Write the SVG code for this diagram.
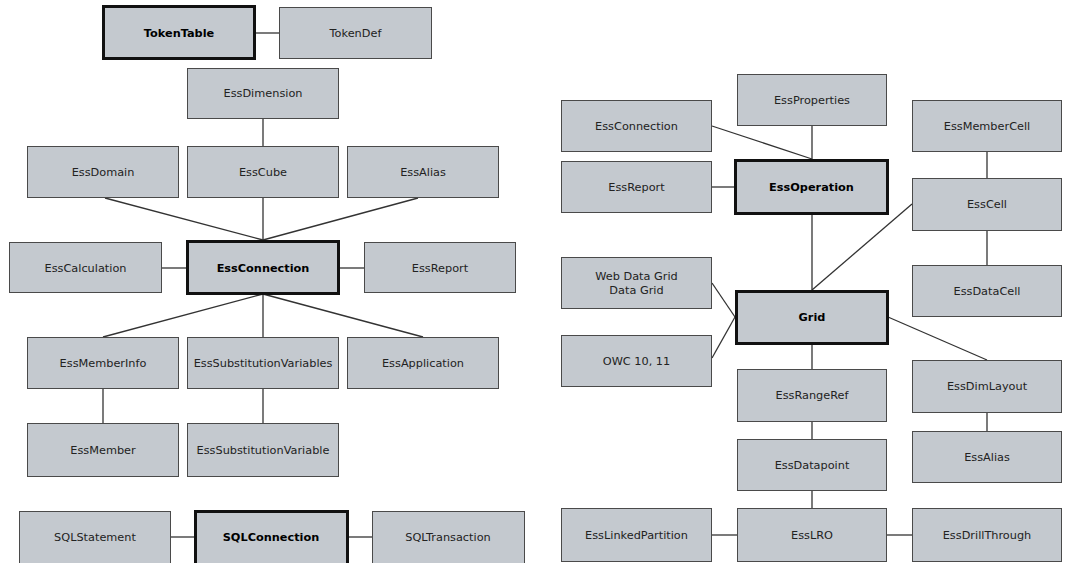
<svg xmlns="http://www.w3.org/2000/svg" width="1084" height="563" viewBox="0 0 1084 563">
<style>
.n rect{fill:#c4c9cf;stroke:#4a4a4a;stroke-width:1}
.n.k rect{stroke:#111;stroke-width:3}
.n text{font-family:"DejaVu Sans",Verdana,sans-serif;font-size:11.3px;fill:#222;text-anchor:middle}
.n.k text{font-weight:bold;fill:#000}
#conn line{stroke:#333;stroke-width:1.3}
</style>
<rect width="1084" height="563" fill="#fff"/>
<g id="conn">
<line x1="255" y1="33" x2="279" y2="33"/>
<line x1="263" y1="119" x2="263" y2="146"/>
<line x1="105" y1="198" x2="263" y2="240"/>
<line x1="263" y1="198" x2="263" y2="240"/>
<line x1="418" y1="198" x2="263" y2="240"/>
<line x1="162" y1="268" x2="186" y2="268"/>
<line x1="339" y1="268" x2="364" y2="268"/>
<line x1="263" y1="294" x2="103" y2="337"/>
<line x1="263" y1="294" x2="263" y2="337"/>
<line x1="263" y1="294" x2="423" y2="337"/>
<line x1="103" y1="389" x2="103" y2="423"/>
<line x1="263" y1="389" x2="263" y2="423"/>
<line x1="171" y1="537" x2="194" y2="537"/>
<line x1="348" y1="537" x2="372" y2="537"/>
<line x1="712" y1="126" x2="812" y2="159"/>
<line x1="812" y1="126" x2="812" y2="159"/>
<line x1="712" y1="187" x2="734" y2="187"/>
<line x1="987" y1="152" x2="987" y2="178"/>
<line x1="812" y1="214" x2="812" y2="290"/>
<line x1="912" y1="204" x2="812" y2="290"/>
<line x1="987" y1="231" x2="987" y2="265"/>
<line x1="712" y1="283" x2="735" y2="317"/>
<line x1="712" y1="358" x2="735" y2="317"/>
<line x1="888" y1="317" x2="987" y2="360"/>
<line x1="812" y1="344" x2="812" y2="369"/>
<line x1="987" y1="413" x2="987" y2="431"/>
<line x1="812" y1="422" x2="812" y2="439"/>
<line x1="812" y1="491" x2="812" y2="508"/>
<line x1="712" y1="535" x2="737" y2="535"/>
<line x1="887" y1="535" x2="912" y2="535"/>
</g>
<g id="TokenTable" class="n k"><rect x="103.5" y="6.5" width="151" height="52"/><text x="179" y="37">TokenTable</text></g>
<g id="TokenDef" class="n"><rect x="279.5" y="7.5" width="152" height="51"/><text x="355.5" y="37">TokenDef</text></g>
<g id="EssDimension" class="n"><rect x="187.5" y="68.5" width="151" height="50"/><text x="263" y="97">EssDimension</text></g>
<g id="EssDomain" class="n"><rect x="27.5" y="146.5" width="151" height="51"/><text x="103" y="176">EssDomain</text></g>
<g id="EssCube" class="n"><rect x="187.5" y="146.5" width="151" height="51"/><text x="263" y="176">EssCube</text></g>
<g id="EssAliasL" class="n"><rect x="347.5" y="146.5" width="151" height="51"/><text x="423" y="176">EssAlias</text></g>
<g id="EssCalculation" class="n"><rect x="9.5" y="242.5" width="152" height="50"/><text x="85.5" y="272">EssCalculation</text></g>
<g id="EssConnectionL" class="n k"><rect x="187.5" y="241.5" width="151" height="52"/><text x="263" y="272">EssConnection</text></g>
<g id="EssReportL" class="n"><rect x="364.5" y="242.5" width="151" height="50"/><text x="440" y="272">EssReport</text></g>
<g id="EssMemberInfo" class="n"><rect x="27.5" y="337.5" width="151" height="51"/><text x="103" y="367">EssMemberInfo</text></g>
<g id="EssSubstitutionVariables" class="n"><rect x="187.5" y="337.5" width="151" height="51"/><text x="263" y="367">EssSubstitutionVariables</text></g>
<g id="EssApplication" class="n"><rect x="347.5" y="337.5" width="151" height="51"/><text x="423" y="367">EssApplication</text></g>
<g id="EssMember" class="n"><rect x="27.5" y="423.5" width="151" height="53"/><text x="103" y="454">EssMember</text></g>
<g id="EssSubstitutionVariable" class="n"><rect x="187.5" y="423.5" width="151" height="53"/><text x="263" y="454">EssSubstitutionVariable</text></g>
<g id="SQLStatement" class="n"><rect x="19.5" y="511.5" width="151" height="52"/><text x="95" y="541">SQLStatement</text></g>
<g id="SQLConnection" class="n k"><rect x="195.5" y="511.5" width="152" height="53"/><text x="271" y="541">SQLConnection</text></g>
<g id="SQLTransaction" class="n"><rect x="372.5" y="511.5" width="152" height="52"/><text x="448" y="541">SQLTransaction</text></g>
<g id="EssProperties" class="n"><rect x="737.5" y="74.5" width="149" height="51"/><text x="812" y="104">EssProperties</text></g>
<g id="EssConnectionR" class="n"><rect x="561.5" y="100.5" width="150" height="51"/><text x="636.5" y="130">EssConnection</text></g>
<g id="EssMemberCell" class="n"><rect x="912.5" y="100.5" width="149" height="51"/><text x="987" y="130">EssMemberCell</text></g>
<g id="EssReportR" class="n"><rect x="561.5" y="161.5" width="150" height="51"/><text x="636.5" y="191">EssReport</text></g>
<g id="EssOperation" class="n k"><rect x="735.5" y="160.5" width="152" height="53"/><text x="811.5" y="191">EssOperation</text></g>
<g id="EssCell" class="n"><rect x="912.5" y="178.5" width="149" height="52"/><text x="987" y="208">EssCell</text></g>
<g id="WebDataGrid" class="n"><rect x="561.5" y="257.5" width="150" height="51"/><text x="636.5" y="280">Web Data Grid</text><text x="636.5" y="294">Data Grid</text></g>
<g id="EssDataCell" class="n"><rect x="912.5" y="265.5" width="149" height="51"/><text x="987" y="295">EssDataCell</text></g>
<g id="Grid" class="n k"><rect x="736.5" y="291.5" width="151" height="52"/><text x="812" y="321">Grid</text></g>
<g id="OWC" class="n"><rect x="561.5" y="335.5" width="150" height="51"/><text x="636.5" y="365">OWC 10, 11</text></g>
<g id="EssDimLayout" class="n"><rect x="912.5" y="360.5" width="149" height="52"/><text x="987" y="390">EssDimLayout</text></g>
<g id="EssRangeRef" class="n"><rect x="737.5" y="369.5" width="149" height="52"/><text x="812" y="399">EssRangeRef</text></g>
<g id="EssAliasR" class="n"><rect x="912.5" y="431.5" width="149" height="51"/><text x="987" y="461">EssAlias</text></g>
<g id="EssDatapoint" class="n"><rect x="737.5" y="439.5" width="149" height="51"/><text x="812" y="469">EssDatapoint</text></g>
<g id="EssLinkedPartition" class="n"><rect x="561.5" y="508.5" width="150" height="53"/><text x="636.5" y="539">EssLinkedPartition</text></g>
<g id="EssLRO" class="n"><rect x="737.5" y="508.5" width="149" height="53"/><text x="812" y="539">EssLRO</text></g>
<g id="EssDrillThrough" class="n"><rect x="912.5" y="508.5" width="149" height="53"/><text x="987" y="539">EssDrillThrough</text></g>
</svg>
